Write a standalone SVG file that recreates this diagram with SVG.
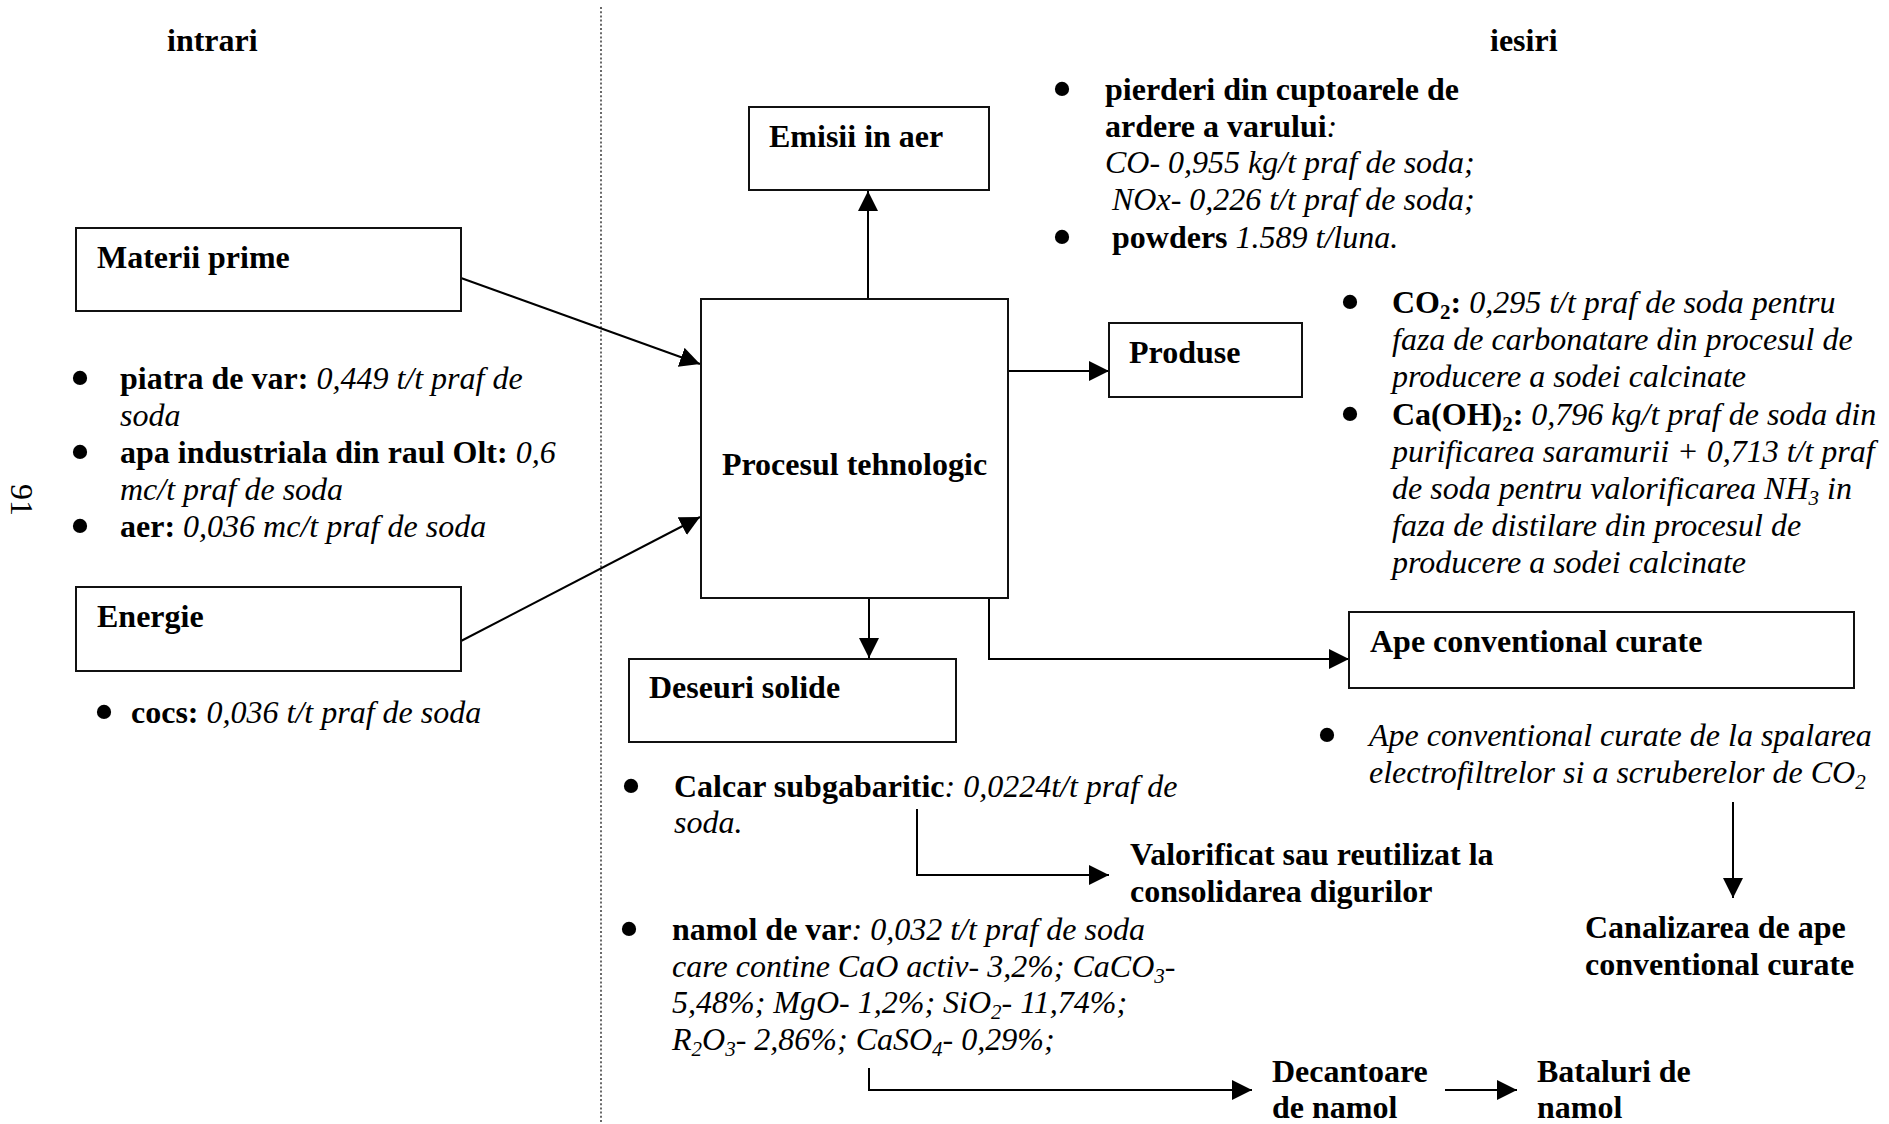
<svg xmlns="http://www.w3.org/2000/svg" width="1889" height="1124" viewBox="0 0 1889 1124">
<style>
text{font-family:"Liberation Serif","Times New Roman",serif;font-size:32px;fill:#000}
.b{font-weight:bold}
.i{font-style:italic}
.bu{font-size:60px;text-anchor:middle}
.box{fill:#fff;stroke:#111;stroke-width:2}
.ln{fill:none;stroke:#000;stroke-width:2}
.sub{font-size:21px}
</style>
<defs>
<marker id="ah" markerUnits="userSpaceOnUse" markerWidth="22" markerHeight="22" refX="20" refY="10" orient="auto">
<path d="M0,0 L20,10 L0,20 z" fill="#000"/>
</marker>
</defs>
<rect width="1889" height="1124" fill="#fff"/>
<line x1="601" y1="7" x2="601" y2="1124" stroke="#444" stroke-width="1.6" stroke-dasharray="2 2.2"/>
<text class="b" x="167" y="51">intrari</text>
<text class="b" x="1490" y="51">iesiri</text>
<text x="0" y="0" transform="translate(11,500) rotate(90)" text-anchor="middle">91</text>

<g id="connectors">
<line class="ln" x1="461" y1="278" x2="700" y2="364" marker-end="url(#ah)"/>
<line class="ln" x1="461" y1="641" x2="700" y2="517" marker-end="url(#ah)"/>
<line class="ln" x1="868" y1="299" x2="868" y2="191" marker-end="url(#ah)"/>
<line class="ln" x1="1008" y1="371" x2="1109" y2="371" marker-end="url(#ah)"/>
<line class="ln" x1="869" y1="598" x2="869" y2="658" marker-end="url(#ah)"/>
<polyline class="ln" points="989,598 989,659 1349,659" marker-end="url(#ah)"/>
<polyline class="ln" points="917,809 917,875 1109,875" marker-end="url(#ah)"/>
<polyline class="ln" points="869,1068 869,1090 1252,1090" marker-end="url(#ah)"/>
<line class="ln" x1="1445" y1="1090" x2="1517" y2="1090" marker-end="url(#ah)"/>
<line class="ln" x1="1733" y1="802" x2="1733" y2="898" marker-end="url(#ah)"/>
</g>

<g id="materii">
<rect class="box" x="76" y="228" width="385" height="83"/>
<text class="b" x="97" y="268">Materii prime</text>
</g>
<g id="inputs-list">
<text class="bu" x="80" y="398">•</text>
<text x="120" y="389"><tspan class="b">piatra de var:</tspan><tspan class="i"> 0,449 t/t praf de</tspan></text>
<text class="i" x="120" y="426">soda</text>
<text class="bu" x="80" y="472">•</text>
<text x="120" y="463"><tspan class="b">apa industriala din raul Olt:</tspan><tspan class="i"> 0,6</tspan></text>
<text class="i" x="120" y="500">mc/t praf de soda</text>
<text class="bu" x="80" y="546">•</text>
<text x="120" y="537"><tspan class="b">aer:</tspan><tspan class="i"> 0,036 mc/t praf de soda</tspan></text>
</g>
<g id="energie">
<rect class="box" x="76" y="587" width="385" height="84"/>
<text class="b" x="97" y="627">Energie</text>
</g>
<g id="energie-list">
<text class="bu" x="104" y="732">•</text>
<text x="131" y="723"><tspan class="b">cocs:</tspan><tspan class="i"> 0,036 t/t praf de soda</tspan></text>
</g>

<g id="procesul">
<rect class="box" x="701" y="299" width="307" height="299"/>
<text class="b" x="854.5" y="475" text-anchor="middle">Procesul tehnologic</text>
</g>

<g id="emisii">
<rect class="box" x="749" y="107" width="240" height="83"/>
<text class="b" x="769" y="147">Emisii in aer</text>
</g>
<g id="emisii-list">
<text class="bu" x="1062" y="109">•</text>
<text class="b" x="1105" y="100">pierderi din cuptoarele de</text>
<text x="1105" y="137"><tspan class="b">ardere a varului</tspan><tspan class="i">:</tspan></text>
<text class="i" x="1105" y="173">CO- 0,955 kg/t praf de soda;</text>
<text class="i" x="1112" y="210">NOx- 0,226 t/t praf de soda;</text>
<text class="bu" x="1062" y="257">•</text>
<text x="1112" y="248"><tspan class="b">powders</tspan><tspan class="i"> 1.589 t/luna.</tspan></text>
</g>

<g id="produse">
<rect class="box" x="1109" y="323" width="193" height="74"/>
<text class="b" x="1129" y="363">Produse</text>
</g>
<g id="produse-list">
<text class="bu" x="1350" y="322">•</text>
<text x="1392" y="313"><tspan class="b">CO</tspan><tspan class="b sub" dy="6">2</tspan><tspan class="b" dy="-6">:</tspan><tspan class="i"> 0,295 t/t praf de soda pentru</tspan></text>
<text class="i" x="1392" y="350">faza de carbonatare din procesul de</text>
<text class="i" x="1392" y="387">producere a sodei calcinate</text>
<text class="bu" x="1350" y="434">•</text>
<text x="1392" y="425"><tspan class="b">Ca(OH)</tspan><tspan class="b sub" dy="6">2</tspan><tspan class="b" dy="-6">:</tspan><tspan class="i"> 0,796 kg/t praf de soda din</tspan></text>
<text class="i" x="1392" y="462">purificarea saramurii + 0,713 t/t praf</text>
<text class="i" x="1392" y="499">de soda pentru valorificarea NH<tspan class="sub" dy="6">3</tspan><tspan dy="-6"> in</tspan></text>
<text class="i" x="1392" y="536">faza de distilare din procesul de</text>
<text class="i" x="1392" y="573">producere a sodei calcinate</text>
</g>

<g id="deseuri">
<rect class="box" x="629" y="659" width="327" height="83"/>
<text class="b" x="649" y="698">Deseuri solide</text>
</g>
<g id="deseuri-list">
<text class="bu" x="631" y="806">•</text>
<text x="674" y="797"><tspan class="b">Calcar subgabaritic</tspan><tspan class="i">: 0,0224t/t praf de</tspan></text>
<text class="i" x="674" y="833">soda.</text>
<text class="bu" x="629" y="949">•</text>
<text x="672" y="940"><tspan class="b">namol de var</tspan><tspan class="i">: 0,032 t/t praf de soda</tspan></text>
<text class="i" x="672" y="977">care contine CaO activ- 3,2%; CaCO<tspan class="sub" dy="6">3</tspan><tspan dy="-6">-</tspan></text>
<text class="i" x="672" y="1013">5,48%; MgO- 1,2%; SiO<tspan class="sub" dy="6">2</tspan><tspan dy="-6">- 11,74%;</tspan></text>
<text class="i" x="672" y="1050">R<tspan class="sub" dy="6">2</tspan><tspan dy="-6">O</tspan><tspan class="sub" dy="6">3</tspan><tspan dy="-6">- 2,86%; CaSO</tspan><tspan class="sub" dy="6">4</tspan><tspan dy="-6">- 0,29%;</tspan></text>
</g>

<g id="valorificat">
<text class="b" x="1130" y="865">Valorificat sau reutilizat la</text>
<text class="b" x="1130" y="902">consolidarea digurilor</text>
</g>
<g id="decantoare">
<text class="b" x="1272" y="1082">Decantoare</text>
<text class="b" x="1272" y="1118">de namol</text>
</g>
<g id="bataluri">
<text class="b" x="1537" y="1082">Bataluri de</text>
<text class="b" x="1537" y="1118">namol</text>
</g>

<g id="ape">
<rect class="box" x="1349" y="612" width="505" height="76"/>
<text class="b" x="1370" y="652">Ape conventional curate</text>
</g>
<g id="ape-list">
<text class="bu" x="1327" y="755">•</text>
<text class="i" x="1369" y="746">Ape conventional curate de la spalarea</text>
<text class="i" x="1369" y="783">electrofiltrelor si a scruberelor de CO<tspan class="sub" dy="6">2</tspan></text>
</g>
<g id="canalizarea">
<text class="b" x="1585" y="938">Canalizarea de ape</text>
<text class="b" x="1585" y="975">conventional curate</text>
</g>
</svg>
